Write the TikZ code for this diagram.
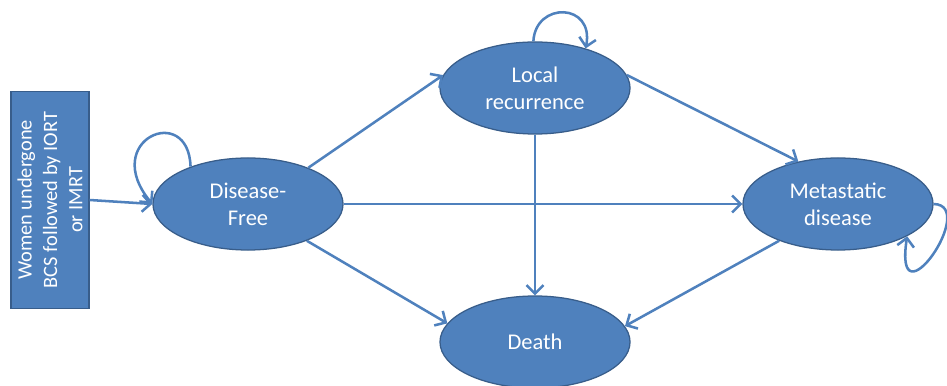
\documentclass[tikz,border=0pt]{standalone}
\usepackage{fontspec}
\setmainfont{Carlito}
\usetikzlibrary{arrows.meta,
    positioning,
    shapes.geometric}
\definecolor{stateblue}{HTML}{4F81BD}
\definecolor{stateedge}{HTML}{385D8A}
\tikzset{
  state/.style={ellipse, fill=stateblue, draw=stateedge, line width=0.9pt,
    text=white, align=center, inner sep=0pt,
    minimum width=4.75cm, minimum height=2.3cm,
    font=\fontsize{16}{19}\selectfont},
  entry/.style={rectangle, fill=stateblue, draw=stateedge, line width=0.9pt,
    text=white, align=center, inner sep=0pt, rotate=90,
    minimum width=5.42cm, minimum height=1.95cm,
    font=\fontsize{14.5}{18}\selectfont},
  link/.style={draw=stateblue, line width=1.8pt,
    -{Straight Barb[length=6pt,width=12pt]}}
}

\begin{document}
\begin{tikzpicture}[x=0.025cm,y=-0.025cm]
  \useasboundingbox (0,0) rectangle (947,386);
  \node[entry] (start) at (50,200) {Women undergone\\BCS followed by IORT\\or IMRT};
  \node[state] (df) at (248,204) {Disease-\\Free};
  \node[state] (lr) at (535,88) {Local\\recurrence};
  \node[state] (met) at (838,204) {Metastatic\\disease};
  \node[state] (death) at (535,342) {Death};

  % the box is turned, so its south side faces right
  \draw[link] (start.south) -- (df.west);
  \draw[link] (df.31) -- (lr.172);
  \draw[link] (df.east) -- (met.west);
  \draw[link] (df.-32) -- (death.168);
  \draw[link] (lr.south) -- (death.north);
  \draw[link] (lr.8) -- (met.133);
  \draw[link] (met.212) -- (death.10);

  % self loops
  \draw[link] (df.147) .. controls +(-2,-65) and +(-53,-64) .. (df.west);
  \draw[link] (lr.92) .. controls +(2,-40) and +(9,-46) .. (lr.38);
  \draw[link] (met.east) .. controls +(46,1) and +(-14,92) .. (met.-25);
\end{tikzpicture}
\end{document}
